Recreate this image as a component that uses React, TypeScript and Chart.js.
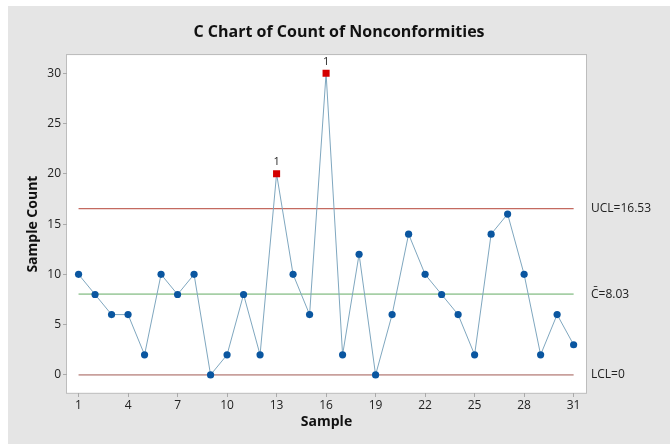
import React, { useEffect, useRef } from "react";
import { Chart, registerables } from "chart.js";

Chart.register(...registerables);

const samples = [1,2,3,4,5,6,7,8,9,10,11,12,13,14,15,16,17,18,19,20,21,22,23,24,25,26,27,28,29,30,31];
const counts = [10,8,6,6,2,10,8,10,0,2,8,2,20,10,6,30,2,12,0,6,14,10,8,6,2,14,16,10,2,6,3];
const xTickValues = [1,4,7,10,13,16,19,22,25,28,31];
const yTickValues = [0,5,10,15,20,25,30];
const ucl = 16.53;
const center = 8.03;
const lcl = 0;
const limitLabels = ["UCL=16.53", "C\u0304=8.03", "LCL=0"];
const limitValues = [ucl, center, lcl];

const FONT = "'Open Sans', 'Noto Sans', sans-serif";

export default function App() {
  const ref = useRef<HTMLCanvasElement | null>(null);

  useEffect(() => {
    if (!ref.current) return;
    const first = samples[0];
    const last = samples[samples.length - 1];
    const mainData = samples.map((s, i) => ({ x: s, y: counts[i] }));
    const isOut = (v: number) => v > ucl || v < lcl;

    const areaPlugin = {
      id: "areaBox",
      beforeDraw(chart: any) {
        const { ctx, chartArea: a } = chart;
        ctx.save();
        ctx.fillStyle = "#ffffff";
        ctx.fillRect(a.left, a.top, a.right - a.left, a.bottom - a.top);
        ctx.strokeStyle = "#bdbdbd";
        ctx.lineWidth = 1;
        ctx.strokeRect(Math.round(a.left) - 0.5, Math.round(a.top) - 0.5, a.right - a.left + 1, a.bottom - a.top + 1);
        ctx.restore();
      },
      afterDatasetsDraw(chart: any) {
        const { ctx, chartArea: a } = chart;
        const yScale = chart.scales.y;
        ctx.save();
        ctx.fillStyle = "#222";
        ctx.font = `12px ${FONT}`;
        ctx.textAlign = "left";
        ctx.textBaseline = "middle";
        limitLabels.forEach((t, i) => {
          ctx.fillText(t, a.right + 5, yScale.getPixelForValue(limitValues[i]));
        });
        const meta = chart.getDatasetMeta(3);
        ctx.font = `11px ${FONT}`;
        ctx.textAlign = "center";
        ctx.textBaseline = "bottom";
        meta.data.forEach((pt: any, i: number) => {
          if (isOut(counts[i])) ctx.fillText("1", pt.x, pt.y - 6);
        });
        ctx.restore();
      },
    };

    const chart = new Chart(ref.current, {
      type: "line",
      data: {
        datasets: [
          {
            data: [{ x: first, y: ucl }, { x: last, y: ucl }],
            borderColor: "#c46a60",
            borderWidth: 1.2,
            pointRadius: 0,
            order: 1,
          },
          {
            data: [{ x: first, y: center }, { x: last, y: center }],
            borderColor: "#a6cfa6",
            borderWidth: 1.6,
            pointRadius: 0,
            order: 2,
          },
          {
            data: [{ x: first, y: lcl }, { x: last, y: lcl }],
            borderColor: "#c9a09c",
            borderWidth: 1.6,
            pointRadius: 0,
            order: 3,
          },
          {
            data: mainData,
            order: 0,
            borderColor: "#7fa7bf",
            borderWidth: 1,
            pointRadius: (c: any) => (isOut(counts[c.dataIndex]) ? 5 : 3.6),
            pointStyle: (c: any) => (isOut(counts[c.dataIndex]) ? "rect" : "circle"),
            pointBackgroundColor: (c: any) => (isOut(counts[c.dataIndex]) ? "#d40000" : "#0a56a0"),
            pointBorderWidth: 0,
            pointBorderColor: "rgba(0,0,0,0)",
          },
        ],
      },
      options: {
        responsive: false,
        devicePixelRatio: 1,
        animation: false,
        layout: { padding: { left: 0, right: 0, top: 3, bottom: 0 } },
        plugins: {
          legend: { display: false },
          tooltip: { enabled: false },
          title: {
            display: true,
            text: "C Chart of Count of Nonconformities",
            color: "#111",
            font: { family: FONT, size: 16, weight: "bold" },
            padding: { top: 14, bottom: 13 },
          },
        },
        scales: {
          x: {
            type: "linear",
            min: 0.3,
            max: 31.75,
            afterBuildTicks: (s: any) => {
              s.ticks = xTickValues.map((v) => ({ value: v }));
            },
            afterFit: (s: any) => {
              s.height = 51;
            },
            ticks: {
              color: "#222",
              font: { family: FONT, size: 12 },
              padding: 1,
              autoSkip: false,
              maxRotation: 0,
            },
            grid: { drawOnChartArea: false, drawTicks: true, tickLength: 4, color: "#aaa" },
            border: { display: false },
            title: {
              display: true,
              text: "Sample",
              color: "#111",
              font: { family: FONT, size: 14, weight: "bold" },
              padding: { top: 0, bottom: 14 },
            },
          },
          y: {
            type: "linear",
            min: -1.8,
            max: 31.8,
            afterBuildTicks: (s: any) => {
              s.ticks = yTickValues.map((v) => ({ value: v }));
            },
            afterFit: (s: any) => {
              s.width = 59;
            },
            ticks: {
              color: "#222",
              font: { family: FONT, size: 12 },
              padding: 2,
            },
            grid: { drawOnChartArea: false, drawTicks: true, tickLength: 4, color: "#aaa" },
            border: { display: false },
            title: {
              display: true,
              text: "Sample Count",
              color: "#111",
              font: { family: FONT, size: 14, weight: "bold" },
              padding: { top: 17, bottom: 0 },
            },
          },
          yRight: {
            type: "linear",
            position: "right",
            display: true,
            min: -1.8,
            max: 31.8,
            afterFit: (s: any) => {
              s.width = 84;
            },
            ticks: { display: false },
            grid: { display: false, drawTicks: false },
            border: { display: false },
          },
        },
      },
      plugins: [areaPlugin],
    } as any);
    return () => chart.destroy();
  }, []);

  return (
    <div style={{ position: "absolute", left: 8, top: 6, width: 662, height: 438, background: "#e5e5e5" }}>
      <canvas ref={ref} width={662} height={438} style={{ display: "block" }} />
    </div>
  );
}
